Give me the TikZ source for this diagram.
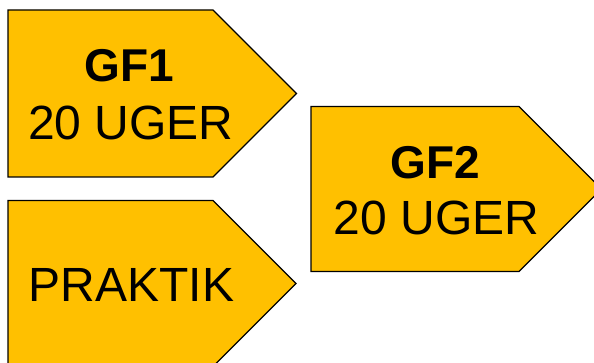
\documentclass[tikz,border=0pt]{standalone}
\usepackage{fontspec}
\setmainfont{Liberation Sans}
\definecolor{gold}{HTML}{FFC000}
\begin{document}
\begin{tikzpicture}[x=1pt,y=-1pt,
  arrowbox/.style={fill=gold,draw=black,line width=1.4pt,line join=miter},
  bigtxt/.style={anchor=base,inner sep=0pt,font=\fontsize{48}{56}\selectfont},
  boldtxt/.style={anchor=base,inner sep=0pt,font=\fontsize{46}{54}\selectfont\bfseries}]
\useasboundingbox (0,0) rectangle (594,363);
\clip (0,0) rectangle (594,363);
\fill[white] (0,0) rectangle (594,363);
% GF1
\draw[arrowbox] (8,10) -- (213,10) -- (296.5,93.5) -- (213,177) -- (8,177) -- cycle;
% PRAKTIK
\draw[arrowbox] (8,200.5) -- (213,200.5) -- (296,283.5) -- (213,366.5) -- (8,366.5) -- cycle;
% GF2
\draw[arrowbox] (311,106.5) -- (519,106.5) -- (601.5,189) -- (519,271.5) -- (311,271.5) -- cycle;
\node[boldtxt] (gf1) at (129,82) {GF1};
\node[bigtxt] (w1) at (131,140) {20 UGER};
\node[bigtxt] (pr) at (131.5,301.5) {PRAKTIK};
\node[boldtxt] (gf2) at (435,178.5) {GF2};
\node[bigtxt] (w2) at (436.5,235) {20 UGER};
\end{tikzpicture}
\end{document}
